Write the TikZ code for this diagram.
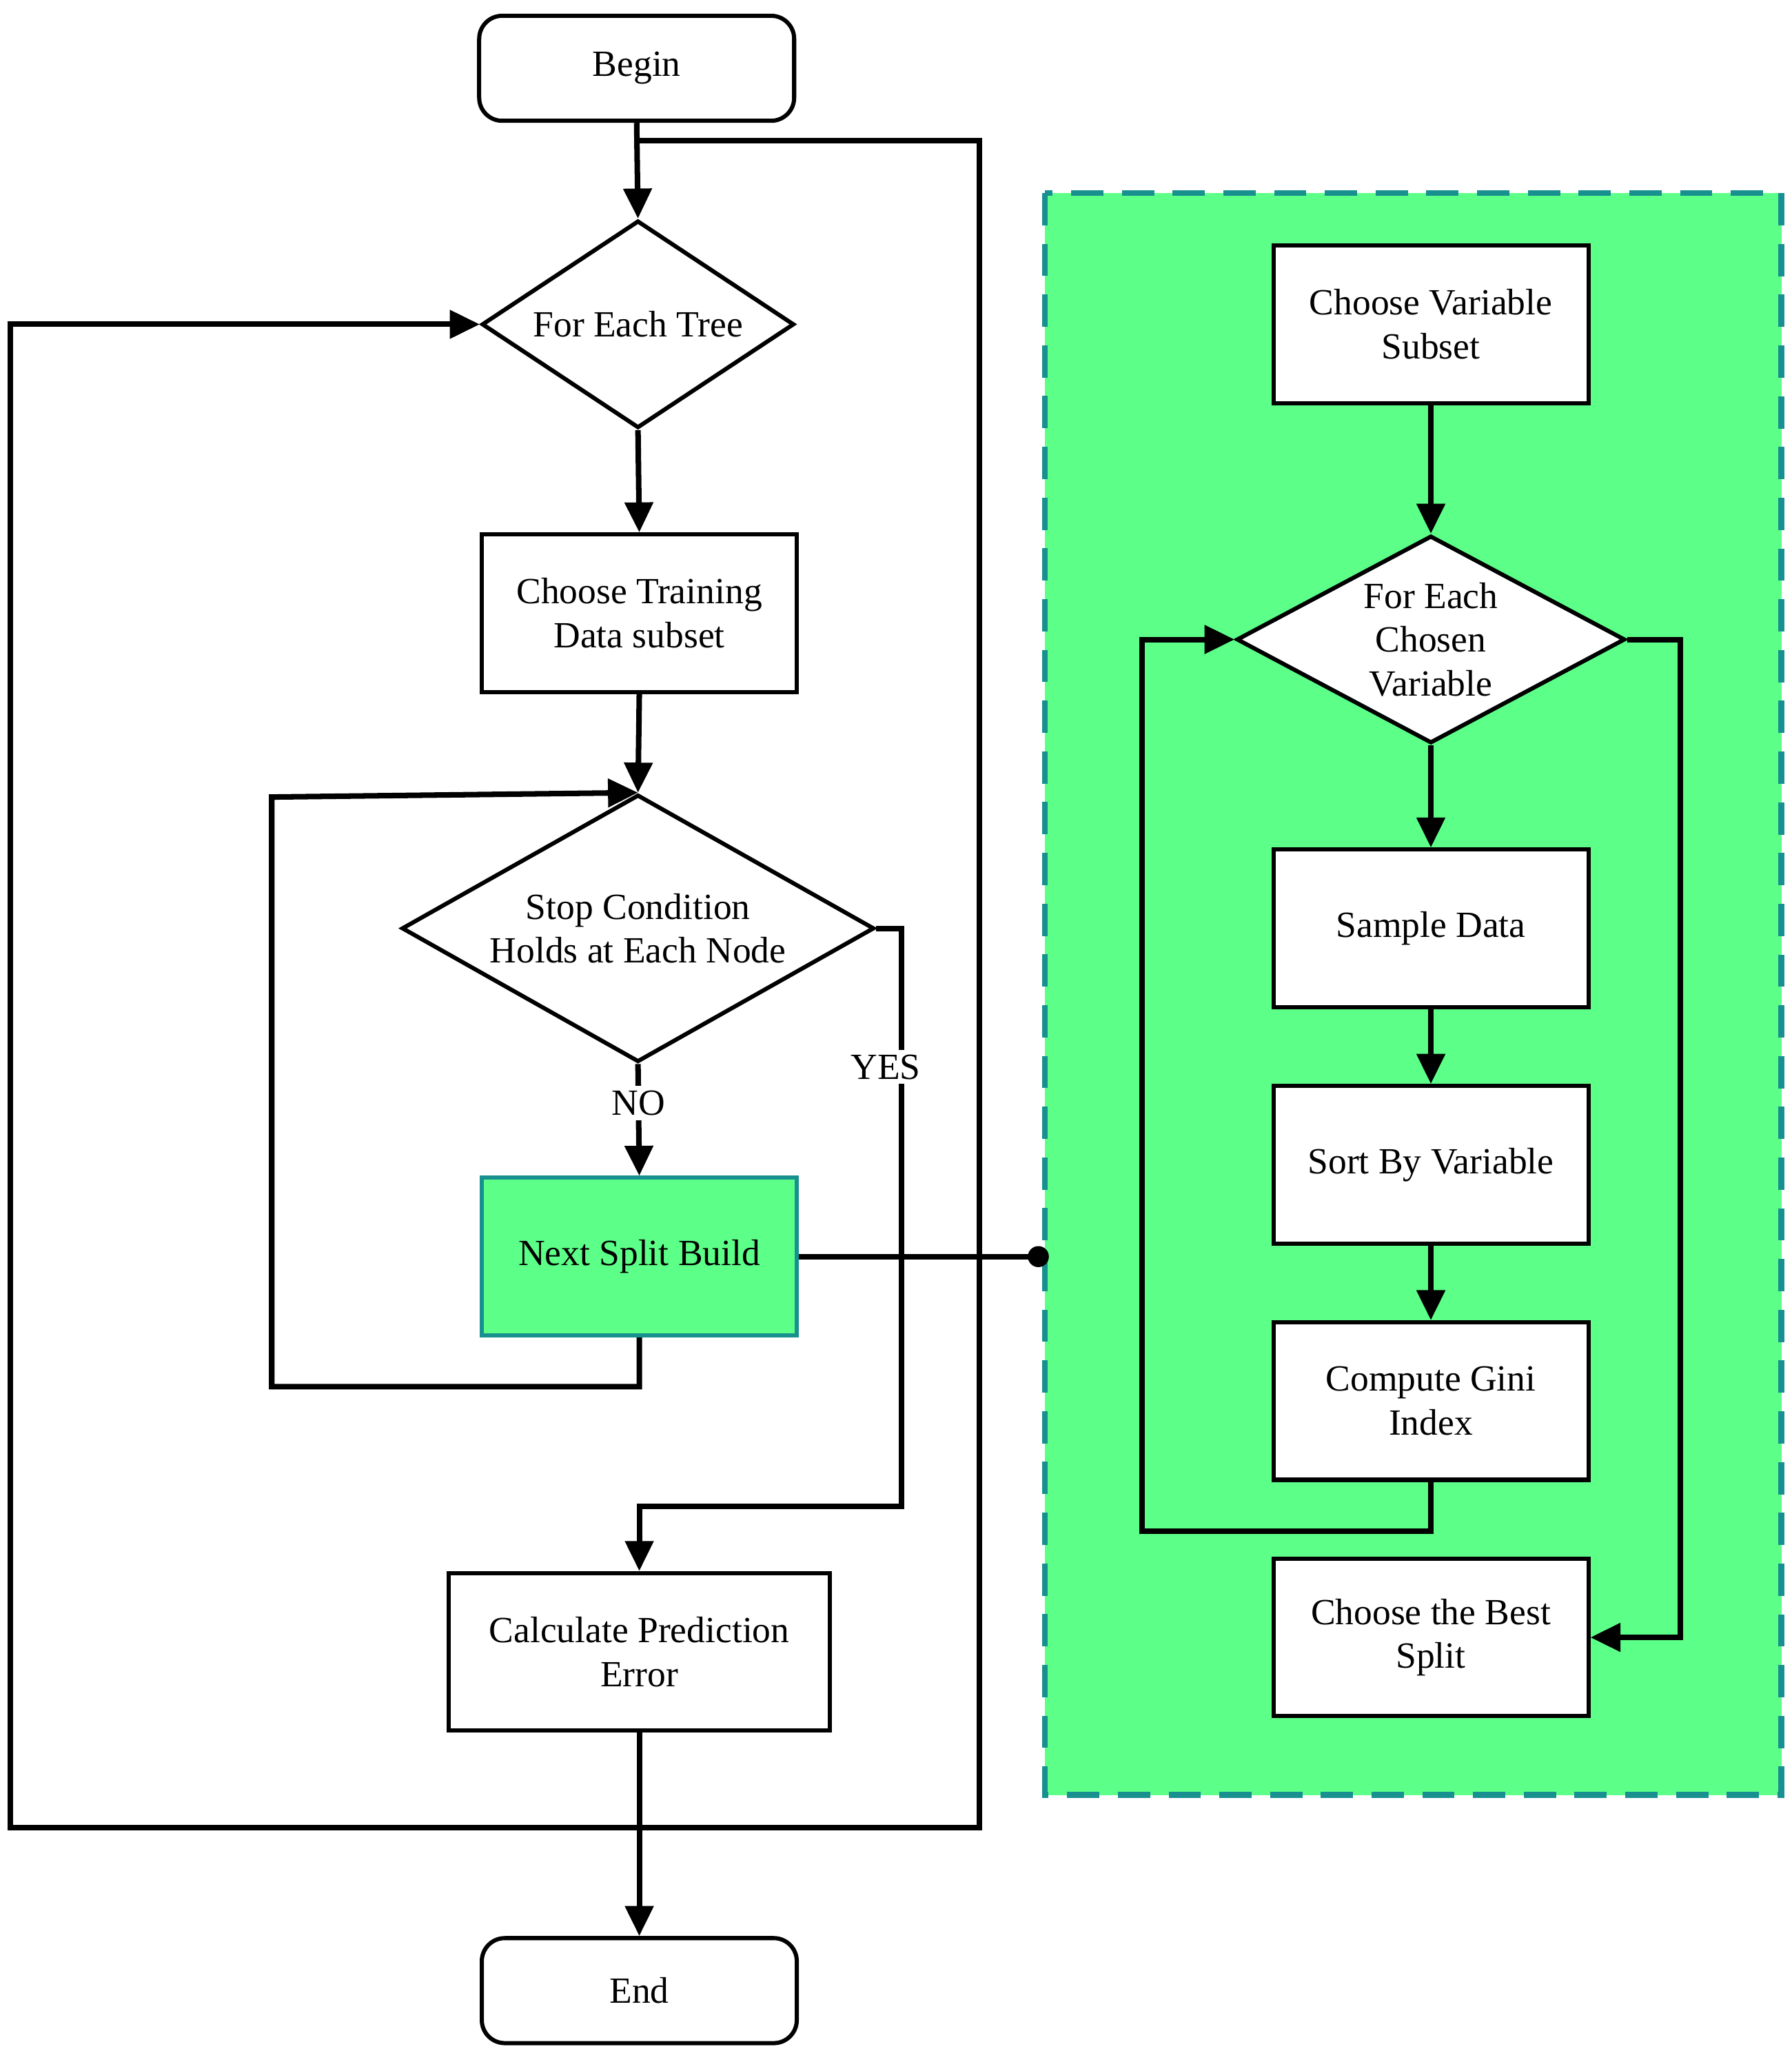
\documentclass[tikz,border=0pt]{standalone}
\usepackage{fontspec}
\setmainfont{Liberation Serif}
\usetikzlibrary{shapes.geometric,arrows.meta}
\definecolor{gfill}{HTML}{5CFF87}
\definecolor{teal2}{HTML}{17908F}
\begin{document}
\begin{tikzpicture}[x=0.02cm,y=-0.02cm,
  font=\fontsize{16}{19}\selectfont,
  box/.style={draw,fill=white,line width=1.8pt,minimum width=4.8cm,minimum height=2.4cm,align=center,inner sep=2pt},
  term/.style={box,rounded corners=10pt,minimum height=1.6cm},
  dia/.style={draw,fill=white,line width=1.8pt,diamond,aspect=1.5,inner sep=0pt,align=center},
  ln/.style={line width=2.4pt},
  ar/.style={ln,-{Triangle[length=13pt,width=12pt]}}]
\useasboundingbox (0,0) rectangle (1365,1562);
\fill[gfill] (796,147) rectangle (1357,1367);
\draw[teal2,line width=2.6pt,dash pattern=on 14pt off 8pt] (796,147) rectangle (1357,1367);
\node[term] (begin) at (485,52) {Begin};
\node[dia,minimum width=4.76cm,minimum height=3.16cm] (tree) at (486,247) {For Each Tree};
\node[box] (train) at (487,467) {Choose Training\\Data subset};
\node[dia,minimum width=7.2cm,minimum height=3.96cm] (stop) at (486,707) {Stop Condition\\Holds at Each Node};
\node[box,fill=gfill,draw=teal2] (next) at (487,957) {Next Split Build};
\node[box,minimum width=5.8cm] (calc) at (487,1258) {Calculate Prediction\\Error};
\node[term] (end) at (487,1516) {End};
\node[box] (cvs) at (1090,247) {Choose Variable\\Subset};
\node[dia,minimum width=5.92cm,minimum height=3.16cm] (each) at (1090,487) {For Each\\Chosen\\Variable};
\node[box] (samp) at (1090,707) {Sample Data};
\node[box] (sort) at (1090,887) {Sort By Variable};
\node[box] (gini) at (1090,1067) {Compute Gini\\Index};
\node[box] (best) at (1090,1247) {Choose the Best\\Split};
\coordinate (dot) at (791,957);
\draw[ar] (begin.south) -- (tree.north);
\draw[ar] (485,107) -- (746,107) -- (746,1392) -- (8,1392) -- (8,247) -- (tree.west);
\draw[ar] (tree.south) -- (train.north);
\draw[ar] (train.south) -- (stop.north);
\draw[ar] (stop.south) -- node[fill=white,inner sep=2pt,pos=0.35]{NO} (next.north);
\draw[ar] (next.south) -- (487,1056) -- (207,1056) -- (207,607) -- (stop.north);
\draw[ar] (stop.east) -- (687,707) -- node[pos=0.24,fill=white,inner sep=2pt,xshift=-7]{YES} (687,1147) -- (487,1147) -- (calc.north);
\draw[ar] (calc.south) -- (end.north);
\draw[ln] (next.east) -- (dot);
\fill (dot) circle (8);
\draw[ar] (cvs.south) -- (each.north);
\draw[ar] (each.south) -- (samp.north);
\draw[ar] (samp.south) -- (sort.north);
\draw[ar] (sort.south) -- (gini.north);
\draw[ar] (gini.south) -- (1090,1166) -- (870,1166) -- (870,487) -- (each.west);
\draw[ar] (each.east) -- (1280,487) -- (1280,1247) -- (best.east);
\end{tikzpicture}
\end{document}
